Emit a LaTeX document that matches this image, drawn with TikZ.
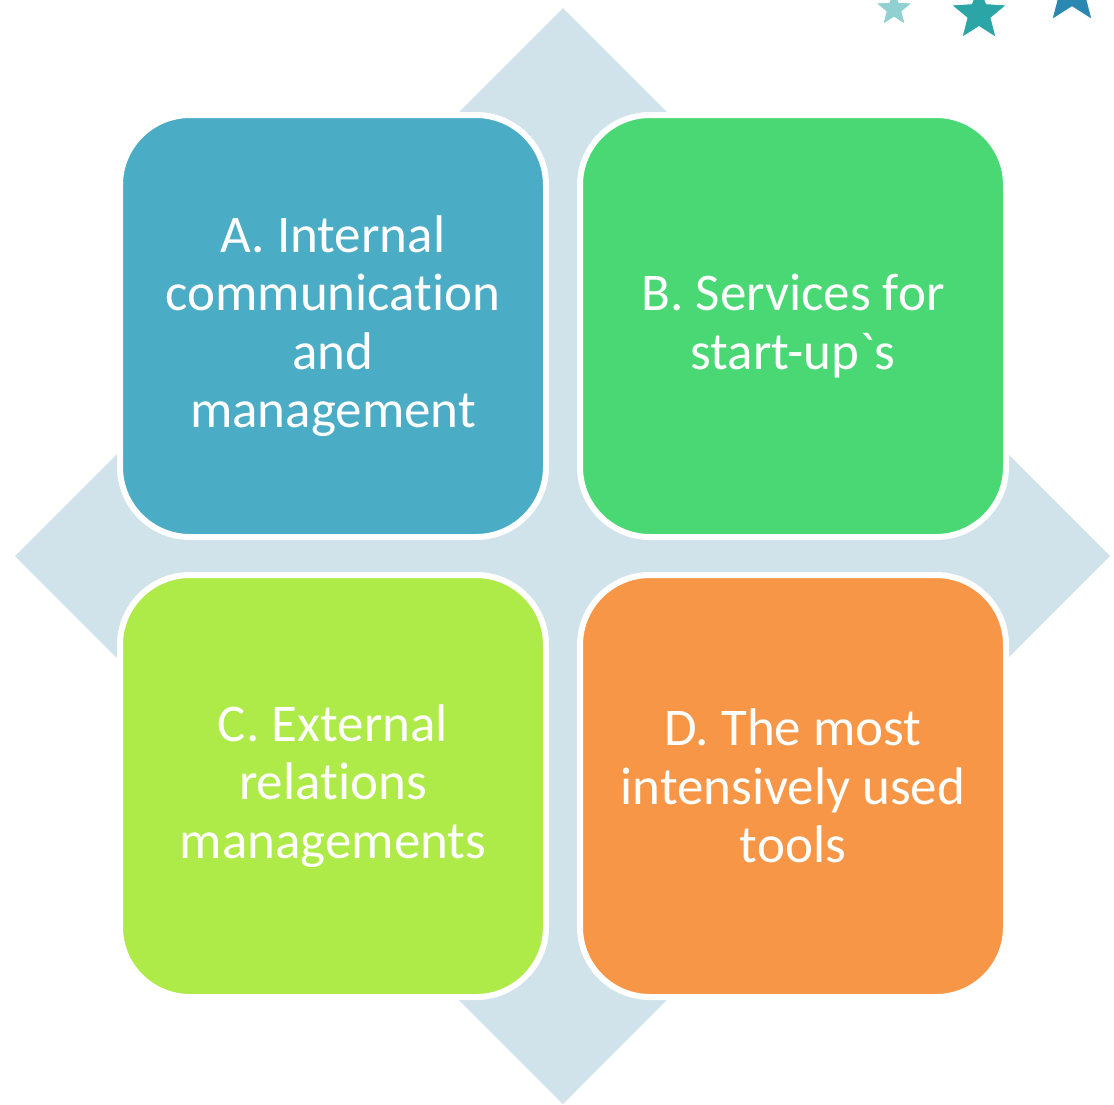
\documentclass[tikz,border=0pt]{standalone}
\usepackage{fontspec}
\setmainfont{Carlito}[RawFeature=-liga]
\usepackage{xcolor}
\usepackage{tikz}
\usetikzlibrary{shapes.geometric}
\definecolor{backdrop}{HTML}{D0E2EA}
\definecolor{tealA}{HTML}{4BACC6}
\definecolor{greenB}{HTML}{4AD874}
\definecolor{limeC}{HTML}{AEEA48}
\definecolor{orangeD}{HTML}{F79646}
\definecolor{starlight}{HTML}{90D0D0}
\definecolor{starmid}{HTML}{2BA5A5}
\definecolor{stardark}{HTML}{2A88B0}

\begin{document}
\begin{tikzpicture}[
  x=1pt, y={(0,-1pt)},
  quadbox/.style = {draw=white, line width=6pt, rounded corners=70pt, minimum width=426pt, minimum height=422pt, align=center, text=white, font=\fontsize{53}{58.5}\selectfont},
  deco/.style    = {star, star points=5, star point ratio=2.3, draw=white, line width=0.8pt, inner sep=0pt},
]
\useasboundingbox (0,0) rectangle (1114,1104);
\clip (0,0) rectangle (1114,1104);
% diamond behind the four boxes
\fill[backdrop] (563,8) -- (1110,556) -- (563,1104) -- (15,556) -- cycle;
\node[quadbox, fill=tealA]   (qa) at (333,326) {A. Internal\\communication\\and\\management};
\node[quadbox, fill=greenB]  (qb) at (793,326) {B. Services for\\start-up\textasciigrave s};
\node[quadbox, fill=limeC]   (qc) at (333,786) {C. External\\relations\\managements};
\node[quadbox, fill=orangeD] (qd) at (793,786) {D. The most\\intensively used\\tools};
% stars in the corner
\node[deco, fill=starlight, minimum size=38pt] (s1) at (894,9) {};
\node[deco, fill=starmid,   minimum size=58pt] (s2) at (979,14) {};
\node[deco, fill=stardark,  minimum size=68pt] (s3) at (1072,-8) {};
\end{tikzpicture}
\end{document}
